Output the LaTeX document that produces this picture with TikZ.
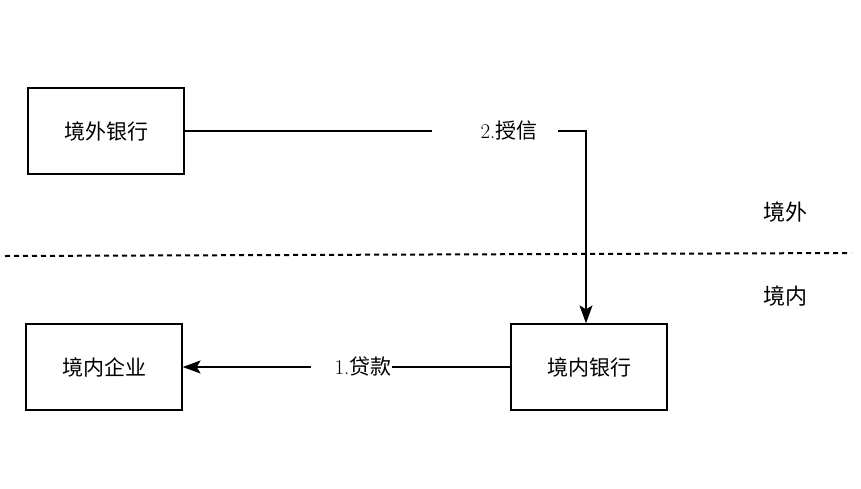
\documentclass[tikz,border=0pt]{standalone}
\usepackage{fontspec}
\newfontfamily\cjk{Noto Sans CJK SC}
\usetikzlibrary{arrows.meta, positioning}
\tikzset{
  box/.style = {draw, line width = 1.3pt, minimum width = 156pt, minimum height = 86pt, font = \cjk\fontsize{21}{25}\selectfont},
  lab/.style = {inner sep = 0pt, font = \fontsize{21}{25}\selectfont},
  side/.style = {inner sep = 0pt, font = \cjk\fontsize{22}{26}\selectfont},
  conn/.style = {line width = 1.3pt},
  tip/.style = {-{Stealth[length = 18pt, width = 13pt, inset = 4pt]}}
}
\begin{document}
\begin{tikzpicture}[x = 1pt, y = -1pt]
\useasboundingbox (0,0) rectangle (861,488);
% boxes
\node[box] (jwyh) at (106,131) {境外银行};
\node[box] (jnqy) at (104,367) {境内企业};
\node[box] (jnyh) at (589,367) {境内银行};
% labels
\node[lab] (sx) at (509,131) {2.{\cjk 授信}};
\node[lab] (dk) at (363,367) {1.{\cjk 贷款}};
\node[side] (jw) at (785,212) {境外};
\node[side] (jn) at (785,296) {境内};
% 2
\coordinate (corner) at ([xshift = -3pt]jnyh.north |- sx);
\draw[conn] (jwyh.east) -- ([xshift = -48pt]sx.west);
\draw[conn, tip] ([xshift = 20pt]sx.east) -- (corner) -- (corner |- jnyh.north);
% 1
\draw[conn] (jnyh.west) -- (dk.east);
\draw[conn, tip] ([xshift = -23pt]dk.west) -- (jnqy.east);
% border line
\draw[line width = 2pt, dash pattern = on 5pt off 4pt] (5,256) -- (851,253);
\end{tikzpicture}
\end{document}
